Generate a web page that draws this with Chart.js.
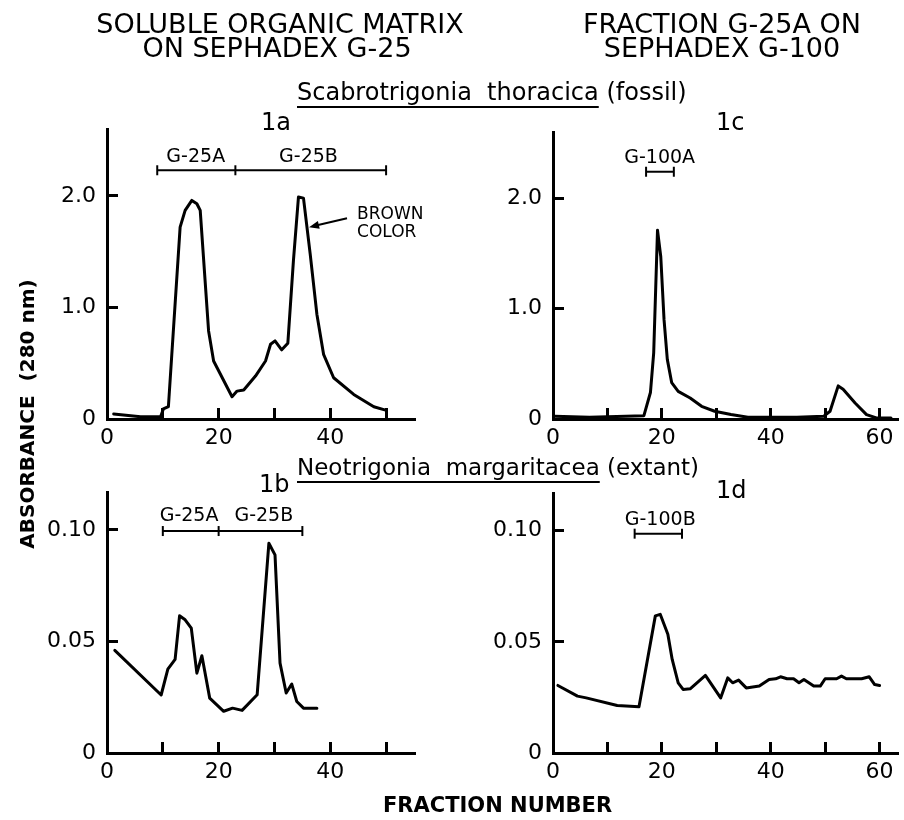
<!DOCTYPE html>
<html><head><meta charset="utf-8">
<script src="https://cdn.jsdelivr.net/npm/chart.js@4.4.1/dist/chart.umd.min.js"></script>
<style>
html,body{margin:0;padding:0;background:#fff;}
body{width:904px;height:820px;position:relative;overflow:hidden;font-family:"DejaVu Sans",sans-serif;color:#000;}
.t{position:absolute;white-space:pre;line-height:1;filter:grayscale(100%);}
.c{text-align:center;width:500px;}
.title{font-size:27px;font-weight:normal;}
.sp{font-size:24px;font-weight:normal;}
.u{text-decoration:underline;text-decoration-thickness:2px;text-underline-offset:6px;}
.lab{font-size:24px;font-weight:normal;}
.ax{font-weight:bold;font-size:20px;}
canvas{position:absolute;}
</style></head><body>
<div class="t c title" style="left:30px;top:10px;">SOLUBLE ORGANIC MATRIX</div>
<div class="t c title" style="left:27px;top:34px;">ON SEPHADEX G-25</div>
<div class="t c title" style="left:472px;top:10px;">FRACTION G-25A ON</div>
<div class="t c title" style="left:472px;top:34px;">SEPHADEX G-100</div>
<div class="t sp" style="left:297px;top:80px;"><span class="u">Scabrotrigonia  thoracica</span> (fossil)</div>
<div class="t sp" style="left:297px;top:456px;font-size:23px;"><span class="u">Neotrigonia  margaritacea</span> (extant)</div>
<div class="t lab" style="left:261px;top:110px;">1a</div>
<div class="t lab" style="left:716px;top:110px;">1c</div>
<div class="t lab" style="left:259px;top:472px;">1b</div>
<div class="t lab" style="left:716px;top:478px;">1d</div>
<div class="t ax" style="left:27px;top:414px;transform:translate(-50%,-50%) rotate(-90deg);">ABSORBANCE  (280 nm)</div>
<div class="t ax" style="left:383px;top:795px;font-size:21px;">FRACTION NUMBER</div>

<script>
// ---- Data: fraction number (x) and absorbance at 280 nm (y) ----
// 1a: Scabrotrigonia thoracica, soluble organic matrix on Sephadex G-25
const fracA = [1.2, 6.0, 9.6, 10.1, 11.0, 13.1, 14.0, 15.2, 16.1, 16.7, 18.2, 19.1, 22.4, 23.3, 24.5, 26.6, 28.4, 29.3, 30.1, 31.3, 32.4, 33.4, 34.3, 35.2, 36.4, 37.6, 38.8, 40.6, 44.2, 47.8, 49.9];
const absA  = [0.045, 0.02, 0.02, 0.09, 0.11, 1.72, 1.87, 1.96, 1.93, 1.87, 0.79, 0.52, 0.20, 0.25, 0.26, 0.385, 0.52, 0.67, 0.70, 0.62, 0.68, 1.42, 1.99, 1.98, 1.48, 0.94, 0.58, 0.37, 0.22, 0.11, 0.08];
// 1c: fraction G-25A on Sephadex G-100 (fossil)
const fracC = [0.3, 6.7, 16.7, 17.9, 18.5, 19.2, 19.8, 20.4, 21.0, 21.8, 23.0, 25.2, 27.3, 29.7, 32.7, 35.8, 44.8, 49.7, 50.9, 52.4, 53.3, 55.5, 57.6, 59.4, 62.1];
const absC  = [0.024, 0.015, 0.03, 0.24, 0.60, 1.71, 1.47, 0.90, 0.54, 0.33, 0.25, 0.19, 0.115, 0.07, 0.04, 0.015, 0.015, 0.024, 0.07, 0.30, 0.27, 0.145, 0.04, 0.01, 0.01];
// 1b: Neotrigonia margaritacea, soluble organic matrix on Sephadex G-25
const fracB = [1.4, 9.7, 10.9, 12.2, 13.0, 14.0, 15.1, 16.1, 17.0, 18.4, 20.9, 22.5, 24.2, 26.9, 29.0, 30.1, 31.0, 32.1, 33.1, 34.0, 35.2, 37.6];
const absB  = [0.046, 0.026, 0.0376, 0.042, 0.0615, 0.0597, 0.056, 0.0358, 0.0436, 0.0246, 0.0187, 0.0201, 0.0191, 0.0261, 0.094, 0.0888, 0.0403, 0.0269, 0.0309, 0.0231, 0.0201, 0.0201];
// 1d: fraction G-25A on Sephadex G-100 (extant)
const fracD = [0.9, 4.5, 6.1, 11.8, 15.8, 18.8, 19.7, 21.1, 21.9, 23.0, 23.9, 25.2, 28.0, 30.8, 32.1, 33.0, 34.1, 35.5, 37.9, 39.7, 40.9, 41.8, 43.0, 44.2, 45.2, 46.1, 47.9, 49.1, 50.0, 52.1, 53.0, 53.9, 56.7, 58.1, 59.1, 60.0];
const absD  = [0.0304, 0.0256, 0.0248, 0.0214, 0.0208, 0.0617, 0.0624, 0.0534, 0.0421, 0.0316, 0.0286, 0.0289, 0.0349, 0.0248, 0.0338, 0.0316, 0.0328, 0.0293, 0.0301, 0.0331, 0.0334, 0.0343, 0.0334, 0.0334, 0.0316, 0.0331, 0.0301, 0.0301, 0.0334, 0.0334, 0.0346, 0.0334, 0.0334, 0.0343, 0.0308, 0.0304];

// ---- Ticks ----
const xTicksLeft  = [0, 10, 20, 30, 40, 50];
const xTicksRight = [0, 10, 20, 30, 40, 50, 60];
const xLabelStep  = 20;
const yTicksTop    = [0, 1, 2];
const yLabelsTop   = ['0', '1.0', '2.0'];
const yTicksBottom = [0, 0.05, 0.10];
const yLabelsBottom = ['0', '0.05', '0.10'];

// ---- Pooled-fraction brackets (fraction limits, absorbance level) ----
const brkA = [9, 23, 50];      const brkAy = 2.23;
const brkC = [17.1, 22.2];     const brkCy = 2.24;
const brkB = [10, 20, 35];     const brkBy = 0.0995;
const brkD = [15, 23.7];       const brkDy = 0.0987;
// labels: [text, fraction, absorbance]
const notesA = [['G-25A', 15.9, 2.35], ['G-25B', 36.1, 2.35]];
const notesC = [['G-100A', 19.6, 2.36]];
const notesB = [['G-25A', 14.7, 0.106], ['G-25B', 28.1, 0.106]];
const notesD = [['G-100B', 19.7, 0.105]];
const brownA = [['BROWN', 44.8, 1.83], ['COLOR', 44.8, 1.67]];
const arrowA = [[43.0, 1.80], [36.2, 1.72]];

const FONT = 'DejaVu Sans';

const notePlugin = {
  id: 'notes',
  afterDatasetsDraw(chart) {
    const o = chart.options.plugins.notes;
    if (!o) return;
    const {ctx, scales: {x, y}} = chart;
    ctx.save();
    ctx.fillStyle = '#000';
    ctx.font = '19px "' + FONT + '"';
    ctx.textAlign = 'center';
    ctx.textBaseline = 'middle';
    (o.centered || []).forEach(([t, fx, fy]) => ctx.fillText(t, x.getPixelForValue(fx), y.getPixelForValue(fy)));
    ctx.font = '17px "' + FONT + '"';
    ctx.textAlign = 'left';
    (o.left || []).forEach(([t, fx, fy]) => ctx.fillText(t, x.getPixelForValue(fx), y.getPixelForValue(fy)));
    if (o.arrow) {
      const x0 = x.getPixelForValue(o.arrow[0][0]), y0 = y.getPixelForValue(o.arrow[0][1]);
      const x1 = x.getPixelForValue(o.arrow[1][0]), y1 = y.getPixelForValue(o.arrow[1][1]);
      const ang = Math.atan2(y1 - y0, x1 - x0);
      ctx.strokeStyle = '#000'; ctx.lineWidth = 2;
      ctx.beginPath(); ctx.moveTo(x0, y0); ctx.lineTo(x1 - 6 * Math.cos(ang), y1 - 6 * Math.sin(ang)); ctx.stroke();
      ctx.beginPath();
      ctx.moveTo(x1, y1);
      ctx.lineTo(x1 - 10 * Math.cos(ang) + 4 * Math.sin(ang), y1 - 10 * Math.sin(ang) - 4 * Math.cos(ang));
      ctx.lineTo(x1 - 10 * Math.cos(ang) - 4 * Math.sin(ang), y1 - 10 * Math.sin(ang) + 4 * Math.cos(ang));
      ctx.closePath(); ctx.fill();
    }
    ctx.restore();
  }
};

function panel(cv, area, fr, ab, xMax, yMax, xTicks, yTicks, yLabels, brk, brkY, notes, extra) {
  const c = document.createElement('canvas');
  c.width = cv.w; c.height = cv.h;
  c.style.left = cv.l + 'px'; c.style.top = cv.t + 'px';
  document.body.appendChild(c);
  const tickFont = {family: FONT, size: 22};
  const zeroPad = s => { s.paddingLeft = 0; s.paddingRight = 0; s.paddingTop = 0; s.paddingBottom = 0; };
  new Chart(c, {
    type: 'line',
    data: {
      datasets: [
        {data: fr.map((v, i) => ({x: v, y: ab[i]})), borderColor: '#000', borderWidth: 3, pointRadius: 0,
         tension: 0, borderJoinStyle: 'round', borderCapStyle: 'round', fill: false},
        {data: brk.map(v => ({x: v, y: brkY})), borderColor: '#000', borderWidth: 2, pointStyle: 'line',
         pointRotation: 90, pointRadius: 5, pointBorderWidth: 2, pointBorderColor: '#000', fill: false, clip: false}
      ]
    },
    options: {
      responsive: false, animation: false, devicePixelRatio: 1,
      layout: {padding: {left: 0, top: area.top - cv.t, right: cv.l + cv.w - area.right, bottom: 0}},
      plugins: {legend: {display: false}, tooltip: {enabled: false},
        notes: Object.assign({centered: notes}, extra || {})},
      scales: {
        x: {type: 'linear', min: 0, max: xMax,
          afterBuildTicks: s => { s.ticks = xTicks.map(v => ({value: v})); },
          afterFit: s => { s.height = cv.t + cv.h - area.bottom; zeroPad(s); },
          ticks: {autoSkip: false, maxRotation: 0, padding: 17, color: '#000', font: tickFont,
            callback: v => (v % xLabelStep === 0 ? String(v) : '')},
          grid: {drawOnChartArea: false, drawTicks: true, tickLength: -11, lineWidth: 3, color: '#000'},
          border: {display: true, width: 3, color: '#000'}},
        y: {type: 'linear', min: 0, max: yMax,
          afterBuildTicks: s => { s.ticks = yTicks.map(v => ({value: v})); },
          afterFit: s => { s.width = area.left - cv.l; zeroPad(s); },
          ticks: {autoSkip: false, padding: 22, color: '#000', font: tickFont,
            callback: v => yLabels[yTicks.indexOf(v)]},
          grid: {drawOnChartArea: false, drawTicks: true, tickLength: -11, lineWidth: 3, color: '#000'},
          border: {display: true, width: 3, color: '#000'}}
      }
    },
    plugins: [notePlugin]
  });
}

panel({l: 0, t: 110, w: 440, h: 350}, {left: 107, right: 414, top: 129, bottom: 419},
  fracA, absA, 55, 2.6, xTicksLeft, yTicksTop, yLabelsTop, brkA, brkAy, notesA, {left: brownA, arrow: arrowA});
panel({l: 440, t: 110, w: 464, h: 350}, {left: 553, right: 903, top: 132, bottom: 419},
  fracC, absC, 63.2, 2.6, xTicksRight, yTicksTop, yLabelsTop, brkC, brkCy, notesC);
panel({l: 0, t: 470, w: 440, h: 350}, {left: 107, right: 414, top: 492, bottom: 753},
  fracB, absB, 55, 0.117, xTicksLeft, yTicksBottom, yLabelsBottom, brkB, brkBy, notesB);
panel({l: 440, t: 470, w: 464, h: 350}, {left: 553, right: 903, top: 493, bottom: 753},
  fracD, absD, 63.2, 0.117, xTicksRight, yTicksBottom, yLabelsBottom, brkD, brkDy, notesD);
</script>
</body></html>
